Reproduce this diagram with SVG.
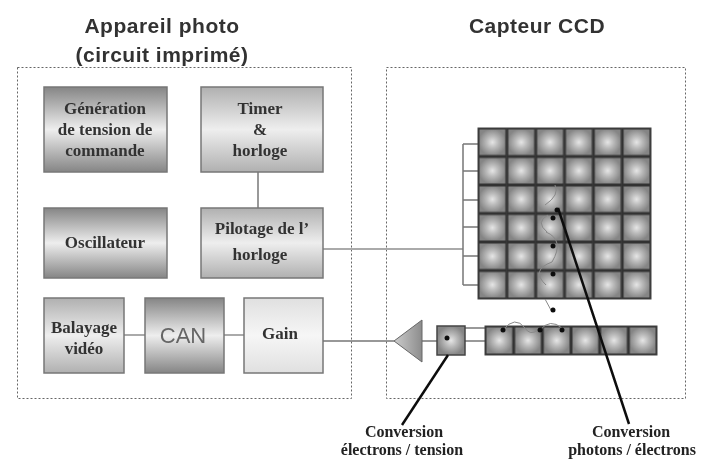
<svg xmlns="http://www.w3.org/2000/svg" width="714" height="461" viewBox="0 0 714 461">
<style>
.zone{fill:none;stroke:#666;stroke-width:1;stroke-dasharray:2 2}
.box{stroke:#777;stroke-width:1.5}
.title{font:bold 21px "Liberation Sans",Arial,sans-serif;fill:#333;text-anchor:middle;letter-spacing:.5px}
.lbl{font:bold 17px "Liberation Serif","Times New Roman",serif;fill:#333;text-anchor:middle}
.cap{font:bold 16px "Liberation Serif","Times New Roman",serif;fill:#222;text-anchor:middle}
.can{font:22px "Liberation Sans",Arial,sans-serif;fill:#666;text-anchor:middle}
.wire{fill:none;stroke:#777;stroke-width:1.5}
.lite{fill:none;stroke:#aaa;stroke-width:2}
.wave{fill:none;stroke:#888;stroke-width:1}
.lead{fill:none;stroke:#111;stroke-width:2.5}
.dot{fill:#111}
.cell{fill:url(#cell);stroke:#333;stroke-width:1.5}
</style>
<defs>
<linearGradient id="dark" x1="0" y1="0" x2="0" y2="1"><stop offset="0" stop-color="#858585"/><stop offset=".5" stop-color="#eeeeee"/><stop offset="1" stop-color="#858585"/></linearGradient>
<linearGradient id="mid" x1="0" y1="0" x2="0" y2="1"><stop offset="0" stop-color="#b0b0b0"/><stop offset=".5" stop-color="#eeeeee"/><stop offset="1" stop-color="#b0b0b0"/></linearGradient>
<linearGradient id="pale" x1="0" y1="0" x2="0" y2="1"><stop offset="0" stop-color="#e0e0e0"/><stop offset=".5" stop-color="#f6f6f6"/><stop offset="1" stop-color="#e0e0e0"/></linearGradient>
<linearGradient id="tri" x1="0" y1="0" x2="1" y2="0"><stop offset="0" stop-color="#cccccc"/><stop offset="1" stop-color="#8c8c8c"/></linearGradient>
<radialGradient id="cell"><stop offset="0" stop-color="#e6e6e6"/><stop offset=".45" stop-color="#b8b8b8"/><stop offset="1" stop-color="#858585"/></radialGradient>
<pattern id="cells" width="28.83" height="28.5" patternUnits="userSpaceOnUse" x="478" y="128"><rect x=".75" y=".75" width="27.3" height="27" class="cell"/></pattern>
<pattern id="rowcells" width="28.67" height="29" patternUnits="userSpaceOnUse" x="485" y="326"><rect x=".75" y=".75" width="27.2" height="27.5" class="cell"/></pattern>
<filter id="soft" x="0" y="0" width="100%" height="100%"><feGaussianBlur stdDeviation="0.7"/></filter>
</defs>
<rect width="714" height="461" fill="#fff"/>
<g filter="url(#soft)">
<g id="zone-appareil"><rect class="zone" x="17.500" y="67.500" width="334" height="331"/>
<text class="title" x="162" y="33">Appareil photo</text><text class="title" x="162" y="62">(circuit imprimé)</text></g>
<g id="zone-capteur"><rect class="zone" x="386.500" y="67.500" width="299" height="331"/>
<text class="title" x="537" y="33">Capteur CCD</text></g>
<g id="connectors">
<path class="wire" d="M258 172V208"/>
<path class="lite" d="M323 249H463"/>
<path class="wire" d="M463 144V285M463 144H478M463 171H478M463 200H478M463 227H478M463 256H478M463 285H478"/>
<path class="lite" d="M124 335H145M224 335H244"/>
<path class="wire" d="M323 341H394M422 341H437"/>
<path class="wire" d="M465 341H485"/>
<path class="wire" d="M465 328H485"/>
</g>
<g id="gen"><rect class="box" x="44" y="87" width="123" height="85" fill="url(#dark)"/><text class="lbl" x="105" y="114">Génération</text><text class="lbl" x="105" y="135">de tension de</text><text class="lbl" x="105" y="156">commande</text></g>
<g id="timer"><rect class="box" x="201" y="87" width="122" height="85" fill="url(#mid)"/><text class="lbl" x="260" y="114">Timer</text><text class="lbl" x="260" y="135">&amp;</text><text class="lbl" x="260" y="156">horloge</text></g>
<g id="osc"><rect class="box" x="44" y="208" width="123" height="70" fill="url(#dark)"/><text class="lbl" x="105" y="248">Oscillateur</text></g>
<g id="pilotage"><rect class="box" x="201" y="208" width="122" height="70" fill="url(#mid)"/><text class="lbl" x="262" y="234">Pilotage de l’</text><text class="lbl" x="260" y="260">horloge</text></g>
<g id="balayage"><rect class="box" x="44" y="298" width="80" height="75" fill="url(#mid)"/><text class="lbl" x="84" y="333">Balayage</text><text class="lbl" x="84" y="354">vidéo</text></g>
<g id="can"><rect class="box" x="145" y="298" width="79" height="75" fill="url(#dark)"/><text class="can" x="183" y="343">CAN</text></g>
<g id="gain"><rect class="box" x="244" y="298" width="79" height="75" fill="url(#pale)"/><text class="lbl" x="280" y="339">Gain</text></g>
<g id="matrice"><rect x="478" y="128" width="173" height="171" fill="url(#cells)" stroke="#444" stroke-width="1"/>
<path class="wave" d="M545 205Q560 195 555 185M547 232Q535 222 548 215M546 232Q565 240 552 262M546 285Q530 270 552 262M545 299L552 312"/></g>
<g id="registre"><rect x="485" y="326" width="172" height="29" fill="url(#rowcells)" stroke="#444" stroke-width="1"/>
<path class="wave" d="M503 330Q515 315 525 328Q530 336 538 330M540 330Q550 318 562 328"/></g>
<g id="ampli"><path d="M394 341L422 320V362Z" fill="url(#tri)" stroke="#666"/></g>
<g id="convertisseur"><rect x="437" y="326" width="28" height="29" fill="url(#cell)" stroke="#444" stroke-width="1.500"/><circle class="dot" cx="447" cy="338" r="2.500"/></g>
<g id="charges"><circle class="dot" cx="557" cy="210" r="2.500"/><circle class="dot" cx="553" cy="218" r="2.500"/><circle class="dot" cx="553" cy="246" r="2.500"/><circle class="dot" cx="553" cy="274" r="2.500"/><circle class="dot" cx="553" cy="310" r="2.500"/><circle class="dot" cx="503" cy="330" r="2.500"/><circle class="dot" cx="540" cy="330" r="2.500"/><circle class="dot" cx="562" cy="330" r="2.500"/></g>
<g id="repere"><path class="lead" d="M558 208L629 424M448 355L402 425"/></g>
<g id="lbl-electrons"><text class="cap" x="404" y="437">Conversion</text><text class="cap" x="402" y="455">électrons / tension</text></g>
<g id="lbl-photons"><text class="cap" x="631" y="437">Conversion</text><text class="cap" x="632" y="455">photons / électrons</text></g>
</g>
</svg>
